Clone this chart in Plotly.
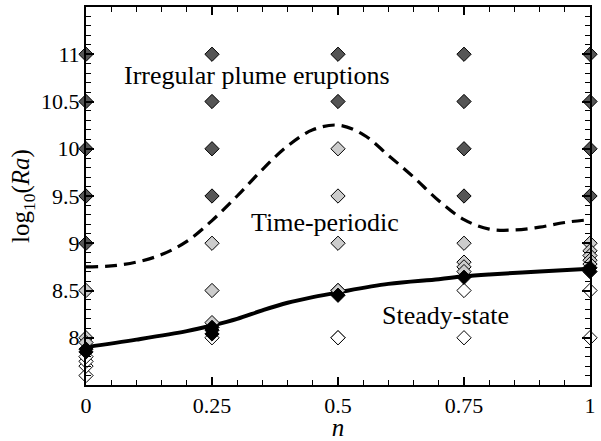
import plotly.graph_objects as go

# --- data ---
white_n = [0, 0, 0, 0, 0.25, 0.5, 0.5, 0.75, 0.75, 1, 1]
white_y = [7.6, 7.7, 7.75, 7.8, 8.0, 8.0, 8.0, 8.5, 8.0, 8.5, 8.0]
gray_n = [0, 0, 0, 0.25, 0.25, 0.25, 0.5, 0.5, 0.5, 0.5, 0.5,
          0.75, 0.75, 0.75, 0.75, 1, 1, 1, 1, 1]
gray_y = [8.5, 8.0, 7.95, 9.0, 8.5, 8.16, 10.0, 9.5, 9.0, 8.5, 8.5,
          9.0, 8.8, 8.75, 8.7, 9.0, 8.92, 8.87, 8.82, 8.78]
dark_n = [0, 0, 0, 0, 0, 0.25, 0.25, 0.25, 0.25, 0.5, 0.5,
          0.75, 0.75, 0.75, 0.75, 1, 1, 1, 1]
dark_y = [9.0, 9.5, 10.0, 10.5, 11.0, 9.5, 10.0, 10.5, 11.0, 10.5, 11.0,
          9.5, 10.0, 10.5, 11.0, 9.5, 10.0, 10.5, 11.0]
black_n = [0, 0, 0.25, 0.25, 0.25, 0.5, 0.75, 1, 1]
black_y = [7.85, 7.88, 8.04, 8.08, 8.11, 8.45, 8.64, 8.7, 8.74]

steady_n = [0, 0.1, 0.2, 0.25, 0.3, 0.35, 0.4, 0.45, 0.5, 0.6, 0.7, 0.75, 0.8, 0.9, 1]
steady_y = [7.9, 7.98, 8.07, 8.13, 8.2, 8.29, 8.37, 8.43, 8.48, 8.57, 8.62, 8.65, 8.67, 8.7, 8.73]

periodic_n = [0, 0.05, 0.1, 0.15, 0.2, 0.25, 0.3, 0.35, 0.4, 0.45, 0.5,
              0.55, 0.6, 0.65, 0.7, 0.75, 0.8, 0.85, 0.9, 0.95, 1]
periodic_y = [8.75, 8.76, 8.8, 8.88, 9.02, 9.24, 9.5, 9.78, 10.03, 10.2, 10.25,
              10.15, 9.93, 9.7, 9.45, 9.25, 9.15, 9.14, 9.17, 9.22, 9.25]

x_ticks = [0, 0.25, 0.5, 0.75, 1]
x_ticklabels = ["0", "0.25", "0.5", "0.75", "1"]
y_ticks = [8, 8.5, 9, 9.5, 10, 10.5, 11]
y_ticklabels = ["8", "8.5", "9", "9.5", "10", "10.5", "11"]

labels = ["Irregular plume eruptions", "Time-periodic", "Steady-state"]
label_n = [0.34, 0.475, 0.714]
label_y = [10.77, 9.22, 8.24]

FONT = "Times New Roman, Liberation Serif, DejaVu Serif, serif"

fig = go.Figure()
fig.add_trace(go.Scatter(x=periodic_n, y=periodic_y, mode="lines",
                         line=dict(color="black", width=3.2, dash="12px,7px", shape="spline"),
                         hoverinfo="skip"))
fig.add_trace(go.Scatter(x=steady_n, y=steady_y, mode="lines",
                         line=dict(color="black", width=4, shape="spline"),
                         hoverinfo="skip"))


def add_markers(xs, ys, fill):
    fig.add_trace(go.Scatter(x=xs, y=ys, mode="markers", cliponaxis=False,
                             marker=dict(symbol="diamond", size=11, color=fill,
                                         line=dict(color="black", width=1))))


add_markers(white_n, white_y, "white")
add_markers(gray_n, gray_y, "#cccccc")
add_markers(dark_n, dark_y, "#555555")
add_markers(black_n, black_y, "black")

for t, xx, yy in zip(labels, label_n, label_y):
    fig.add_annotation(x=xx, y=yy, text=t, showarrow=False,
                       font=dict(family=FONT, size=26, color="black"))

axis_common = dict(showgrid=False, zeroline=False, showline=True, linecolor="black",
                   linewidth=2, mirror="ticks", ticks="inside", ticklen=8,
                   tickwidth=1.5, tickcolor="black",
                   tickfont=dict(family=FONT, size=22, color="black"))

fig.update_xaxes(range=[0, 1], tickvals=x_ticks, ticktext=x_ticklabels,
                 minor=dict(dtick=0.05, ticks="inside", ticklen=5, tickcolor="black", tickwidth=1.2),
                 title=dict(text="<i>n</i>", font=dict(family=FONT, size=25, color="black"), standoff=0),
                 **axis_common)
fig.update_yaxes(range=[7.5, 11.5], tickvals=y_ticks, ticktext=y_ticklabels,
                 minor=dict(tick0=7.5, dtick=0.1, ticks="inside", ticklen=5, tickcolor="black", tickwidth=1.2),
                 title=dict(text="log<sub>10</sub>(<i>Ra</i>)", font=dict(family=FONT, size=25, color="black"), standoff=4),
                 **axis_common)

fig.update_layout(width=601, height=441, showlegend=False,
                  plot_bgcolor="white", paper_bgcolor="white",
                  margin=dict(l=86, r=8, t=5, b=44))

fig.write_html("out.html")
